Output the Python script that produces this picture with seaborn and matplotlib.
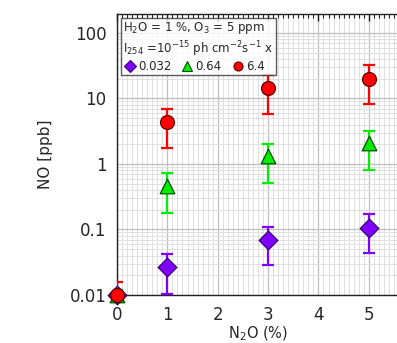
import numpy as np
import pandas as pd
import matplotlib
matplotlib.use("Agg")
import matplotlib.pyplot as plt
import seaborn as sns
from matplotlib.ticker import MultipleLocator, LogLocator, FixedLocator, NullFormatter

# ---- data ----
n2o = [0, 1, 3, 5]
labels = ["0.032", "0.64", "6.4"]

no_032 = [0.01, 0.027, 0.069, 0.105]
lo_032 = [0.008, 0.0105, 0.029, 0.044]
hi_032 = [0.012, 0.043, 0.11, 0.17]

no_064 = [0.01, 0.46, 1.32, 2.1]
lo_064 = [0.008, 0.18, 0.51, 0.81]
hi_064 = [0.012, 0.72, 2.0, 3.2]

no_64 = [0.01, 4.4, 14.5, 20.0]
lo_64 = [0.006, 1.75, 5.8, 8.3]
hi_64 = [0.016, 7.0, 23.0, 32.0]

xticks = [0, 1, 2, 3, 4, 5]
yticks = [0.01, 0.1, 1, 10, 100]
ytick_labels = ["0.01", "0.1", "1", "10", "100"]

sns.set_style("white")
plt.rcParams['font.family'] = ['DejaVu Sans']

fig = plt.figure(figsize=(3.97, 3.43), dpi=100)
ax = fig.add_axes([117/397, 1 - 295/343, 282/397, (295 - 14)/343])

series = [
    (labels[0], no_032, lo_032, hi_032, "#7f00ff", "#3a0070", "D", 9.5),
    (labels[1], no_064, lo_064, hi_064, "#00ee00", "#005000", "^", 10.5),
    (labels[2], no_64, lo_64, hi_64, "#ff0000", "#600000", "o", 10),
]

handles = []
for i, (lab, v, lo, hi, col, ecol, mk, ms) in enumerate(series):
    v = np.array(v); lo = np.array(lo); hi = np.array(hi)
    ax.errorbar(n2o, v, yerr=[v - lo, hi - v], fmt="none", ecolor=col,
                elinewidth=1.6, capsize=4, capthick=1.6, zorder=3 + i)
    df = pd.DataFrame({"x": n2o, "y": v})
    sns.scatterplot(data=df, x="x", y="y", marker=mk, s=ms**2, color=col,
                    edgecolor=ecol, linewidth=0.9, ax=ax, zorder=4 + i,
                    clip_on=False, legend=False)
    handles.append(plt.Line2D([], [], ls="none", marker=mk, markersize=6.5,
                              markerfacecolor=col, markeredgecolor=ecol,
                              markeredgewidth=0.8, label=lab))

ax.set_yscale("log")
ax.set_xlim(0, 5.6)
ax.set_ylim(0.01, 195)

ax.xaxis.set_major_locator(FixedLocator(xticks))
ax.xaxis.set_minor_locator(MultipleLocator(0.1))
ax.yaxis.set_major_locator(FixedLocator(yticks))
ax.set_yticklabels(ytick_labels)
ax.yaxis.set_minor_locator(LogLocator(base=10, subs=np.arange(2, 10) * 1.0, numticks=20))
ax.yaxis.set_minor_formatter(NullFormatter())

ax.grid(True, which="major", color="#bfbfbf", linewidth=0.9)
ax.grid(True, which="minor", color="#e0e0e0", linewidth=0.7)
ax.set_axisbelow(True)

for s in ["left", "bottom", "top"]:
    ax.spines[s].set_color("#222222")
    ax.spines[s].set_linewidth(1.0)
ax.spines["right"].set_visible(False)

ax.tick_params(axis="x", which="major", direction="out", length=5, width=1,
               labelsize=12, top=True, pad=3, color="#222222")
ax.tick_params(axis="x", which="minor", direction="out", length=3, width=0.8,
               top=True, color="#222222")
ax.tick_params(axis="y", which="major", direction="inout", length=8, width=1,
               labelsize=12, color="#222222")
ax.tick_params(axis="y", which="minor", direction="in", length=3, width=0.8,
               color="#222222")
# top ticks go inward
for t in ax.xaxis.get_major_ticks() + ax.xaxis.get_minor_ticks():
    t.tick2line.set_marker(3)

ax.set_ylabel("NO [ppb]", fontsize=11, labelpad=12)
ax.set_xlabel("N$_2$O (%)", fontsize=10.5, labelpad=0)

title = ("H$_2$O = 1 %, O$_3$ = 5 ppm\n"
         "I$_{254}$ =10$^{-15}$ ph cm$^{-2}$s$^{-1}$ x")
leg = ax.legend(handles=handles, title=title, ncol=3, loc="upper left",
                bbox_to_anchor=(0.014, 0.986), borderaxespad=0,
                fontsize=8.5, title_fontsize=8.5,
                frameon=True, fancybox=False, edgecolor="#333333",
                handletextpad=0.15, columnspacing=0.8, borderpad=0.2,
                handlelength=1.1, labelspacing=0.1)
leg.get_frame().set_linewidth(1.0)
leg._legend_box.align = "left"
leg.set_zorder(10)

fig.savefig("out.png", dpi=100)
